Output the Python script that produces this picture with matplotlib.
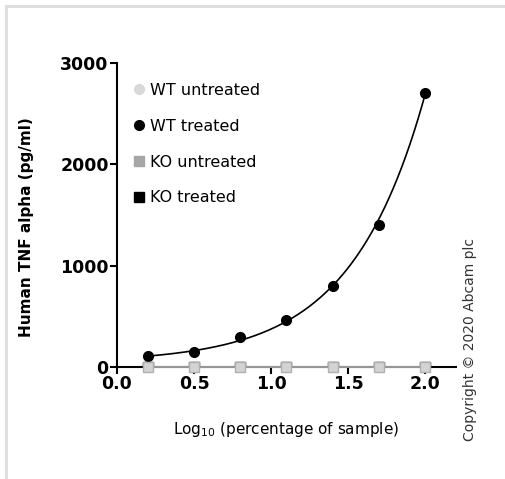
import numpy as np
import matplotlib
matplotlib.use("Agg")
import matplotlib.pyplot as plt
from matplotlib.lines import Line2D

# Data
log_conc = [0.2, 0.5, 0.8, 1.1, 1.4, 1.7, 2.0]
wt_treated = [108, 148, 295, 462, 797, 1397, 2705]
wt_untreated = [0, 0, 0, 0, 0, 0, 0]
ko_untreated = [0, 0, 0, 0, 0, 0, 0]
ko_treated = [0, 0, 0, 0, 0, 0, 0]
series_labels = ["WT untreated", "WT treated", "KO untreated", "KO treated"]
x_ticks = [0.0, 0.5, 1.0, 1.5, 2.0]
y_ticks = [0, 1000, 2000, 3000]

plt.rcParams['font.family'] = ['DejaVu Sans']

fig = plt.figure(figsize=(5.06, 4.79), dpi=100)
ax = fig.add_axes([0.2312, 0.2338, 0.6700, 0.6347])

# exponential fit curve for WT treated (y = A*exp(b x) + C)
x = np.array(log_conc, dtype=float)
y = np.array(wt_treated, dtype=float)
best = None
for C in np.linspace(-200, min(y) - 1, 400):
    b, lnA = np.polyfit(x, np.log(y - C), 1)
    pred = np.exp(lnA) * np.exp(b * x) + C
    err = np.sum((pred - y) ** 2)
    if best is None or err < best[0]:
        best = (err, b, lnA, C)
_, b, lnA, C = best
xf = np.linspace(x.min(), x.max(), 200)
yf = np.exp(lnA) * np.exp(b * xf) + C

ax.plot(xf, yf, color='black', lw=1.2, zorder=3)
ax.plot(log_conc, wt_treated, 'o', color='black', ms=7, zorder=4)

ax.plot(log_conc, ko_treated, 's', color='black', ms=6.5, zorder=4)
ax.plot(log_conc, wt_untreated, 'o', color='#d9d9d9', ms=7, zorder=4)
ax.plot(log_conc, ko_untreated, '-s', color='#b5b5b5', lw=1.2, ms=6.5,
        mfc='#d3d3d3', mec='#b0b0b0', zorder=5, clip_on=False)

ax.set_xlim(0, 2.2)
ax.set_ylim(0, 3000)
ax.set_xticks(x_ticks)
ax.set_xticklabels([f"{t:.1f}" for t in x_ticks])
ax.set_yticks(y_ticks)
ax.set_yticklabels([str(t) for t in y_ticks])

for s in ['top', 'right']:
    ax.spines[s].set_visible(False)
for s in ['left', 'bottom']:
    ax.spines[s].set_linewidth(1.5)
ax.tick_params(axis='both', direction='out', length=5, width=1.5,
               labelsize=12.5, pad=1)
for lab in ax.get_xticklabels() + ax.get_yticklabels():
    lab.set_fontweight('bold')

ax.set_xlabel(r"Log$_{10}$ (percentage of sample)", fontsize=11)
ax.xaxis.set_label_coords(0.5, -0.175)
ax.set_ylabel("Human TNF alpha (pg/ml)", fontsize=11, fontweight='bold')
ax.yaxis.set_label_coords(-0.245, 0.46)

handles = [
    Line2D([], [], marker='o', ls='none', color='#d9d9d9', ms=7),
    Line2D([], [], marker='o', ls='none', color='black', ms=7),
    Line2D([], [], marker='s', ls='none', color='#a6a6a6', ms=6.5),
    Line2D([], [], marker='s', ls='none', color='black', ms=6.5),
]
ax.legend(handles, series_labels, loc='upper left', bbox_to_anchor=(0.03, 0.955),
          frameon=False, fontsize=11.5, handlelength=0.7, handletextpad=0.35,
          labelspacing=1.3, borderaxespad=0)

fig.text(0.929, 0.503, "Copyright \u00a9 2020 Abcam plc", rotation=90,
         fontsize=10, color='#333333', ha='center', va='top')

# light gray frame on left and top
fig.add_artist(Line2D([0.0115, 0.0115], [0, 0.987], transform=fig.transFigure,
                      color='#dddddd', lw=2))
fig.add_artist(Line2D([0.0115, 1.0], [0.987, 0.987], transform=fig.transFigure,
                      color='#dddddd', lw=2))

fig.savefig("out.png", dpi=100)
